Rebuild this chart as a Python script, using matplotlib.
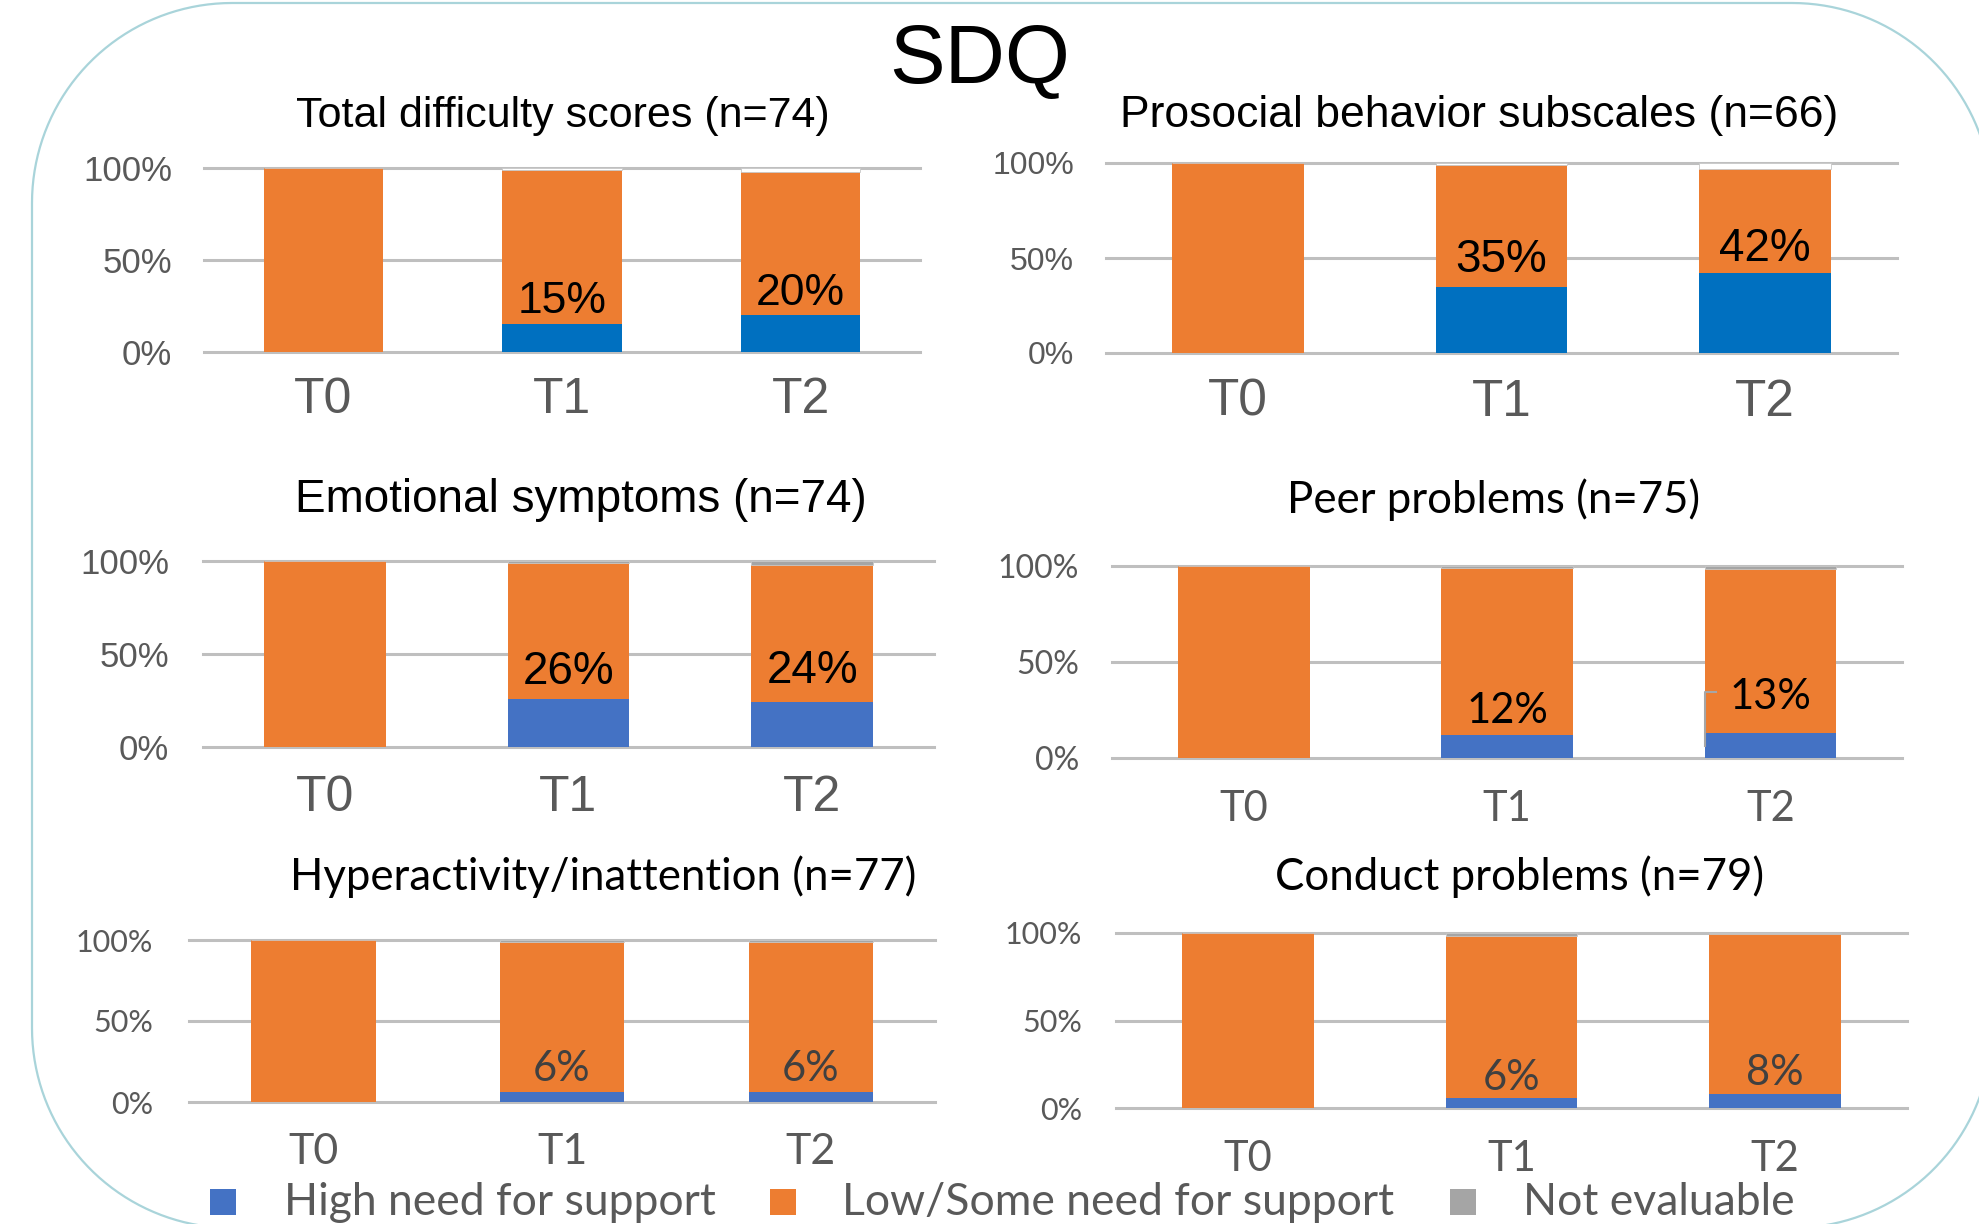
import numpy as np
import matplotlib
matplotlib.use('Agg')
import matplotlib.pyplot as plt
from matplotlib.patches import PathPatch, Rectangle
from matplotlib.path import Path
from matplotlib.transforms import IdentityTransform

# Datos (fracciones de cada grupo)
periods = ['T0', 'T1', 'T2']
titles = ['Total difficulty scores (n=74)', 'Prosocial behavior subscales (n=66)',
          'Emotional symptoms (n=74)', 'Peer problems (n=75)',
          'Hyperactivity/inattention (n=77)', 'Conduct problems (n=79)']
high_need = [[0, 0.15, 0.20],
             [0, 0.35, 0.42],
             [0, 0.26, 0.24],
             [0, 0.12, 0.13],
             [0, 0.06, 0.06],
             [0, 0.06, 0.08]]
not_evaluable = [[0, 0.01, 0.02],
                 [0, 0.01, 0.03],
                 [0, 0.01, 0.02],
                 [0, 0.01, 0.015],
                 [0, 0.015, 0.015],
                 [0, 0.015, 0.005]]
legend_labels = ['High need for support', 'Low/Some need for support', 'Not evaluable']
y_ticks = [0, 0.5, 1.0]
y_ticklabels = ['0%', '50%', '100%']

# Estilo / disposicion (pixeles de la figura)
W, H = 1979, 1224
ARIAL = 'Liberation Sans'
CALI = 'Lato'
ORANGE = '#ED7D31'
GRAY_TXT = '#595959'
GRID = '#BFBFBF'
# caja del eje: x0, y_arriba, x1, y_abajo
boxes = [(204, 168, 920, 352), (1106, 163, 1897, 353),
         (203, 561, 934, 747), (1112, 566, 1902, 758),
         (189, 940, 935, 1102), (1116, 933, 1907, 1108)]
title_pos = [(563, 127), (1479, 127), (581, 512), (1494, 513), (603, 890), (1520, 890)]
fonts = [ARIAL, ARIAL, ARIAL, CALI, CALI, CALI]
blues = ['#0070C0', '#0070C0', '#4472C4', '#4472C4', '#4472C4', '#4472C4']
ne_colors = ['#FFFFFF', '#FFFFFF', '#A5A5A5', '#A5A5A5', '#A5A5A5', '#A5A5A5']
title_size = [31, 32, 33, 31.5, 31.5, 31.5]
ytick_size = [25, 23, 25, 23, 22, 22]
xtick_size = [36, 37, 36, 30, 31, 30]
lab_size = [32, 33, 33, 30, 30, 30]
lab_color = ['black', 'black', 'black', 'black', '#404040', '#404040']
xpad_px = [25, 25, 28, 32, 31, 32]
ypad_px = [32, 32, 34, 33, 36, 34]
lift_px = [(11, 10), (15, 12), (15, 19), (12, 24), (11, 11), (8, 9)]

PT = 100 / 72.0  # px por punto


def fx(x):
    return x / W


def fy(y):
    return 1 - y / H


def marco_redondeado(x0, y0, x1, y1, r):
    # rectangulo con esquinas de arco circular (pixeles, y hacia arriba)
    pts = []
    esquinas = [(x1 - r, y1 - r, 0), (x0 + r, y1 - r, 90),
                (x0 + r, y0 + r, 180), (x1 - r, y0 + r, 270)]
    for cx, cy, a0 in esquinas:
        a = np.radians(np.linspace(a0, a0 + 90, 40))
        pts += list(zip(cx + r * np.cos(a), cy + r * np.sin(a)))
    pts.append(pts[0])
    return Path(pts)


fig = plt.figure(figsize=(W / 100, H / 100), dpi=100)
fig.patch.set_facecolor('white')

marco = PathPatch(marco_redondeado(32, H - 1228, 1992, H - 3, 200),
                  transform=IdentityTransform(), facecolor='none',
                  edgecolor='#A9D4DA', linewidth=1.6)
fig.add_artist(marco)

fig.text(fx(980), fy(83), 'SDQ', fontsize=60, family=ARIAL, ha='center', va='baseline')

x = np.arange(len(periods))
for k in range(6):
    x0, yt, x1, yb = boxes[k]
    ax = fig.add_axes([fx(x0), fy(yb), (x1 - x0) / W, (yb - yt) / H])
    hi = np.array(high_need[k])
    ne = np.array(not_evaluable[k])
    lo = 1 - hi - ne
    ax.bar(x, hi, 0.5, color=blues[k], zorder=2)
    ax.bar(x, lo, 0.5, bottom=hi, color=ORANGE, zorder=2)
    ax.bar(x, ne, 0.5, bottom=hi + lo, color=ne_colors[k], edgecolor='#C8C8C8',
           linewidth=0.6, zorder=2)
    for t in y_ticks:
        ax.axhline(t, color=GRID, lw=2.2, zorder=1, clip_on=False)
    ax.set_xlim(-0.5, 2.5)
    ax.set_ylim(0, 1)
    for s in ax.spines.values():
        s.set_visible(False)
    ax.set_xticks(x)
    ax.set_xticklabels(periods, fontsize=xtick_size[k], family=fonts[k], color=GRAY_TXT)
    ax.set_yticks(y_ticks)
    ax.set_yticklabels(y_ticklabels, fontsize=ytick_size[k], family=fonts[k], color=GRAY_TXT)
    ax.tick_params(axis='x', length=0, pad=xpad_px[k] / PT)
    ax.tick_params(axis='y', length=0, pad=ypad_px[k] / PT)
    ax.set_facecolor('none')

    # etiquetas de porcentaje
    for j in (1, 2):
        ax.annotate(f'{round(hi[j] * 100)}%', (x[j], hi[j]),
                    xytext=(0, lift_px[k][j - 1] / PT), textcoords='offset points',
                    ha='center', va='baseline', fontsize=lab_size[k],
                    family=fonts[k], color=lab_color[k], zorder=3)

    # linea guia de la etiqueta desplazada (Peer problems, T2)
    if k == 3:
        ax_h = yb - yt
        y_lab = hi[2] + (lift_px[k][1] + 17) / ax_h
        xl = x[2] - 0.25
        ax.plot([xl + 0.045, xl, xl], [y_lab, y_lab, hi[2] * 0.5],
                color='#A6A6A6', lw=1.5, zorder=3, clip_on=False)

    fig.text(fx(title_pos[k][0]), fy(title_pos[k][1]), titles[k], fontsize=title_size[k],
             family=fonts[k], ha='center', va='baseline')

# leyenda
leg_colors = ['#4472C4', ORANGE, '#A5A5A5']
leg_sq_x = [210, 770, 1450]
leg_txt_x = [284, 842, 1523]
for c, sx, tx, lab in zip(leg_colors, leg_sq_x, leg_txt_x, legend_labels):
    fig.add_artist(Rectangle((fx(sx), fy(1215)), 26 / W, 26 / H, transform=fig.transFigure,
                             facecolor=c, edgecolor='none'))
    fig.text(fx(tx), fy(1215), lab, fontsize=32, family=CALI, color=GRAY_TXT,
             ha='left', va='baseline')

fig.savefig('out.png', dpi=100)
